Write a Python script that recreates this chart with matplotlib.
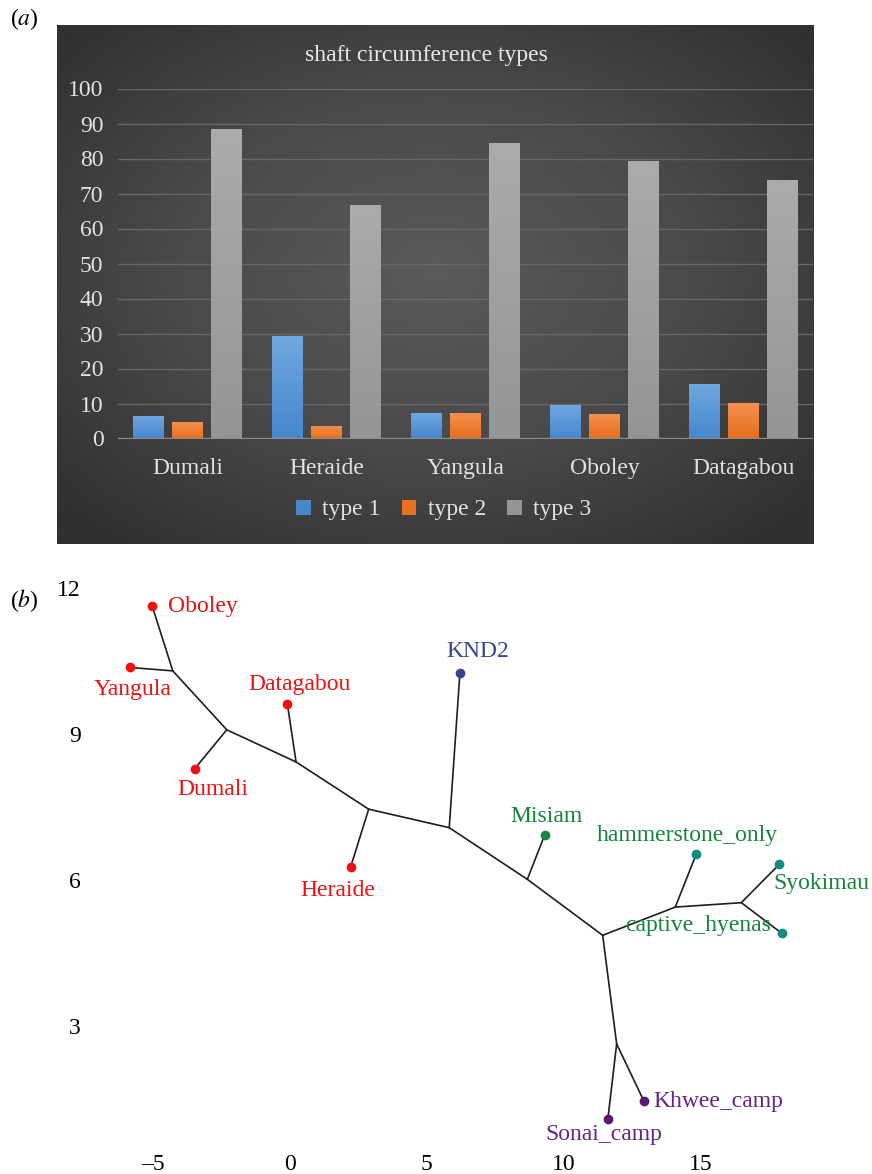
import matplotlib
matplotlib.use("Agg")
import matplotlib.pyplot as plt
import numpy as np
from matplotlib.colors import LinearSegmentedColormap
from matplotlib.patches import Patch

plt.rcParams['font.family'] = ['Liberation Serif', 'DejaVu Serif']
plt.rcParams['mathtext.fontset'] = 'stix'

# ---- panel (a) data ----
sites = ['Dumali', 'Heraide', 'Yangula', 'Oboley', 'Datagabou']
type1 = [6.5, 29.3, 7.3, 9.7, 15.6]
type2 = [4.6, 3.7, 7.4, 7.0, 10.1]
type3 = [88.5, 66.6, 84.5, 79.4, 74.0]
series_names = ['type 1', 'type 2', 'type 3']
yticks_a = [0, 10, 20, 30, 40, 50, 60, 70, 80, 90, 100]

# ---- panel (b) data ----
leaf_names = ['Oboley', 'Yangula', 'Dumali', 'Datagabou', 'Heraide', 'KND2',
              'Misiam', 'hammerstone_only', 'Syokimau', 'captive_hyenas',
              'Khwee_camp', 'Sonai_camp']
leaf_x = [-5.01, -5.81, -3.46, -0.08, 2.23, 6.22, 9.32, 14.84, 17.88, 17.97, 12.94, 11.62]
leaf_y = [11.62, 10.36, 8.28, 9.62, 6.26, 10.25, 6.93, 6.52, 6.32, 4.90, 1.45, 1.09]
leaf_group = ['red', 'red', 'red', 'red', 'red', 'blue',
              'green', 'teal', 'teal', 'teal', 'purple', 'purple']

node_names = ['A', 'B', 'C', 'D', 'E', 'F', 'G', 'H', 'I', 'J']
node_x = [-4.26, -2.29, 0.24, 2.89, 5.83, 8.68, 11.43, 14.08, 16.49, 11.94]
node_y = [10.29, 9.08, 8.42, 7.45, 7.07, 6.01, 4.86, 5.44, 5.53, 2.63]

edges = [('A', 'Oboley'), ('A', 'Yangula'), ('A', 'B'), ('B', 'Dumali'), ('B', 'C'),
         ('C', 'Datagabou'), ('C', 'D'), ('D', 'Heraide'), ('D', 'E'), ('E', 'KND2'),
         ('E', 'F'), ('F', 'Misiam'), ('F', 'G'), ('G', 'H'), ('H', 'hammerstone_only'),
         ('H', 'I'), ('I', 'Syokimau'), ('I', 'captive_hyenas'), ('G', 'J'),
         ('J', 'Khwee_camp'), ('J', 'Sonai_camp')]

xticks_b = [-5, 0, 5, 10, 15]
yticks_b = [3, 6, 9, 12]

# label offsets (points) and alignment for the tree tips
label_off = {
    'Oboley': (11, 0, 'left'), 'Yangula': (1.5, -16, 'center'),
    'Datagabou': (9, 14, 'center'), 'Dumali': (13, -15, 'center'),
    'Heraide': (-9, -17, 'center'), 'KND2': (13, 15, 'center'),
    'Misiam': (1.5, 13, 'center'), 'hammerstone_only': (-6.5, 14, 'center'),
    'Syokimau': (-4, -14, 'left'), 'captive_hyenas': (-60, 6, 'center'),
    'Khwee_camp': (7, 0, 'left'), 'Sonai_camp': (-3, -11, 'center'),
}
dot_col = {'red': '#ee1111', 'blue': '#34458f', 'green': '#18893f',
           'teal': '#158a82', 'purple': '#58196f'}
txt_col = {'red': '#ee1111', 'blue': '#34458f', 'green': '#15843d',
           'teal': '#15843d', 'purple': '#66237f'}

W, H = 872, 1174
fig = plt.figure(figsize=(W / 100, H / 100), dpi=100)


def fx(px):
    return px / W


def fy(py):
    return 1 - py / H


# ---- panel (a) background with radial gradient ----
bg = fig.add_axes([fx(57), fy(544), fx(813) - fx(57), fy(25) - fy(544)])
gx, gy = np.meshgrid(np.linspace(-1, 1, 400), np.linspace(-1, 1, 300))
r = np.sqrt(gx ** 2 + (gy + 0.05) ** 2)
bgcmap = LinearSegmentedColormap.from_list('bg', ['#5a5a5a', '#4a4a4a', '#303030'])
bg.imshow(r, cmap=bgcmap, vmin=0, vmax=1.35, aspect='auto', extent=[0, 1, 0, 1])
bg.set_axis_off()

ax = fig.add_axes([fx(118), fy(438.5), fx(813) - fx(118), fy(88.5) - fy(438.5)])
ax.set_facecolor('none')
x = np.arange(len(sites))
bw = 0.223
step = 0.281
grad = [('#70a8e0', '#4787cf'), ('#f49150', '#e8701f'), ('#ababab', '#959595')]
for i, vals in enumerate([type1, type2, type3]):
    bars = ax.bar(x + (i - 1) * step, vals, bw, color=grad[i][1], zorder=3)
    cm = LinearSegmentedColormap.from_list('g%d' % i, [grad[i][1], grad[i][0]])
    for b in bars:
        x0, y0 = b.get_x(), b.get_y()
        im = ax.imshow(np.linspace(0, 1, 64).reshape(-1, 1), cmap=cm, origin='lower',
                       aspect='auto', extent=[x0, x0 + b.get_width(), y0, y0 + b.get_height()],
                       zorder=4)
        im.set_clip_path(b)
ax.set_xlim(-0.5, len(sites) - 0.5)
ax.set_ylim(0, 100)
ax.set_yticks(yticks_a)
ax.set_xticks(x)
ax.set_xticklabels(sites)
for s in ax.spines.values():
    s.set_visible(False)
ax.tick_params(length=0, colors='#e2e2e2', labelsize=17)
ax.tick_params(axis='y', pad=10.5)
ax.tick_params(axis='x', pad=14)
ax.grid(axis='y', color='#666666', lw=1.0, zorder=1)
ax.axhline(0, color='#8c8c8c', lw=1.6, zorder=5)

fig.text(fx(426), fy(56), 'shaft circumference types', color='#e8e8e8', fontsize=17,
         ha='center', va='center')
handles = [Patch(facecolor=c[1], label=n) for c, n in zip(grad, series_names)]
leg = fig.legend(handles=handles, loc='center', bbox_to_anchor=(fx(444), fy(510)), ncol=3,
                 frameon=False, fontsize=17, handlelength=0.6, handleheight=0.6,
                 handletextpad=0.5, columnspacing=0.9, labelcolor='#e2e2e2')

fig.text(fx(10), fy(19), '($a$)', fontsize=17, va='center')

# ---- panel (b) tree ----
px_l, px_r, py_b, py_t = 100, 860, 1150, 580
x0px, xscale = 289.5, 27.4
y0px, yscale = 1172.0, 48.7
tx = fig.add_axes([fx(px_l), fy(py_b), fx(px_r) - fx(px_l), fy(py_t) - fy(py_b)])
tx.set_xlim((px_l - x0px) / xscale, (px_r - x0px) / xscale)
tx.set_ylim((y0px - py_b) / yscale, (y0px - py_t) / yscale)

pos = {}
for n, a, b in zip(leaf_names, leaf_x, leaf_y):
    pos[n] = (a, b)
for n, a, b in zip(node_names, node_x, node_y):
    pos[n] = (a, b)
for p, q in edges:
    tx.plot([pos[p][0], pos[q][0]], [pos[p][1], pos[q][1]], color='#1e1e1e', lw=1.2,
            solid_capstyle='round', zorder=2)
for n, a, b, g in zip(leaf_names, leaf_x, leaf_y, leaf_group):
    tx.plot(a, b, 'o', color=dot_col[g], ms=6, zorder=3)
    dx, dy, ha = label_off[n]
    tx.annotate(n, (a, b), xytext=(dx, dy), textcoords='offset points', ha=ha,
                va='center', color=txt_col[g], fontsize=17, zorder=4)

tx.set_xticks(xticks_b)
tx.set_xticklabels(['\u20135' if v < 0 else str(v) for v in xticks_b])
tx.set_yticks(yticks_b)
for s in tx.spines.values():
    s.set_visible(False)
tx.tick_params(length=0, labelsize=17, colors='black')
tx.tick_params(axis='y', pad=14)
tx.tick_params(axis='x', pad=3)

fig.text(fx(10), fy(601), '($b$)', fontsize=17, va='center')

fig.savefig('out.png', dpi=100)
